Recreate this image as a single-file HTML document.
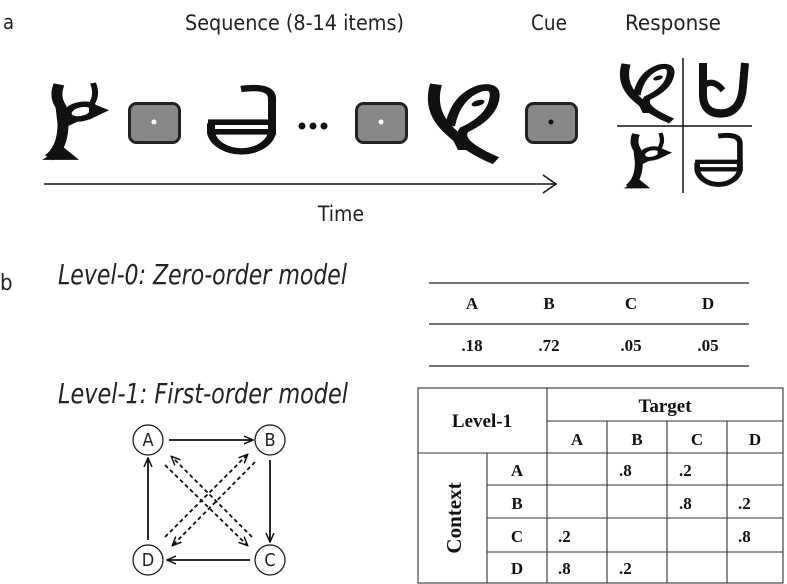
<!DOCTYPE html>
<html><head><meta charset="utf-8"><style>
html,body{margin:0;padding:0;background:#fff;}
svg{display:block;}
.s{font-family:"DejaVu Sans Condensed","Liberation Sans Narrow","Liberation Sans",sans-serif;fill:#222;}
.tb{font-family:"Liberation Serif",serif;fill:#111;font-size:17px;font-weight:bold;}
</style></head><body>
<svg width="787" height="584" viewBox="0 0 787 584" xmlns="http://www.w3.org/2000/svg">
<defs>
<g id="bird">
 <path d="M18 2 Q13 20 20 35 L22 60 Q22 95 8 110" stroke="#111" stroke-width="11" fill="none"/>
 <path d="M1 113 L22 94 L38 113 Z" fill="#111"/>
 <ellipse cx="40" cy="42" rx="14" ry="10" transform="rotate(-25 40 42)" stroke="#111" stroke-width="8" fill="none"/>
 <path d="M48 28 L68 40 L48 54 Z" fill="#111"/>
 <path d="M52 0 Q57 18 50 32" stroke="#111" stroke-width="6" fill="none"/>
 <path d="M20 64 L36 53" stroke="#111" stroke-width="7"/>
</g>
<g id="schwa">
 <path d="M36 5 Q66 0 67 16 L67 60" stroke="#111" stroke-width="8" fill="none"/>
 <path d="M6 48 L6 60 A31 28 0 0 0 67 60 L67 48" stroke="#111" stroke-width="8" fill="none"/>
 <rect x="3" y="43" width="68" height="7" fill="#111"/>
 <rect x="3" y="55" width="68" height="7" fill="#111"/>
</g>
<g id="leaf">
 <path d="M8 2 Q0 42 22 72 Q42 100 68 116" stroke="#111" stroke-width="12" fill="none"/>
 <path d="M22 64 Q28 20 52 8 Q70 2 66 26 Q62 52 36 70 Q30 82 44 96" stroke="#111" stroke-width="10" fill="none"/>
 <path d="M20 70 Q35 90 50 100 L30 100 Z" fill="#111"/>
 <ellipse cx="50" cy="30" rx="7" ry="4" transform="rotate(-30 50 30)" fill="#111"/>
</g>
<g id="ud">
 <path d="M8 0 L8 30 Q8 48 26 48 Q46 48 48 22 L50 0" stroke="#111" stroke-width="8" fill="none"/>
 <path d="M8 22 Q18 14 28 26" stroke="#111" stroke-width="6" fill="none"/>
</g>
<marker id="ah2" markerWidth="10" markerHeight="10" refX="8" refY="5" orient="auto" markerUnits="userSpaceOnUse">
 <path d="M0 1 L9 5 L0 9" fill="none" stroke="#111" stroke-width="1.5"/>
</marker>
</defs>

<!-- panel a -->
<text x="3" y="29" class="s" font-size="20">a</text>
<text x="185" y="30" class="s" font-size="21" textLength="219" lengthAdjust="spacingAndGlyphs">Sequence (8-14 items)</text>
<text x="531" y="30" class="s" font-size="21" textLength="36" lengthAdjust="spacingAndGlyphs">Cue</text>
<text x="625" y="30" class="s" font-size="21" textLength="96" lengthAdjust="spacingAndGlyphs">Response</text>

<g transform="translate(41,83) scale(1,0.68)"><use href="#bird"/></g>
<rect x="129.5" y="103.5" width="50" height="39" rx="7" fill="#888" stroke="#222" stroke-width="3"/>
<circle cx="154" cy="122" r="2.5" fill="#fff"/>
<g transform="translate(205,85) scale(1,0.8)"><use href="#schwa"/></g>
<circle cx="302" cy="126" r="3.5" fill="#111"/><circle cx="313" cy="126" r="3.5" fill="#111"/><circle cx="324" cy="126" r="3.5" fill="#111"/>
<rect x="356.5" y="103.5" width="50" height="39" rx="7" fill="#888" stroke="#222" stroke-width="3"/>
<circle cx="381" cy="122" r="2.5" fill="#fff"/>
<g transform="translate(428,83) scale(1,0.67)"><use href="#leaf"/></g>
<rect x="526.5" y="103.5" width="50" height="39" rx="7" fill="#888" stroke="#222" stroke-width="3"/>
<circle cx="551" cy="122" r="2.5" fill="#111"/>

<line x1="44" y1="184" x2="555" y2="184" stroke="#111" stroke-width="1.5"/>
<path d="M543 175 L556 184 L543 193" stroke="#111" stroke-width="1.5" fill="none"/>
<text x="341" y="221" class="s" font-size="21" text-anchor="middle">Time</text>

<line x1="683" y1="58" x2="683" y2="193" stroke="#111" stroke-width="1.5"/>
<line x1="617" y1="126" x2="752" y2="126" stroke="#111" stroke-width="1.5"/>
<g transform="translate(620,63) scale(0.76,0.5)"><use href="#leaf"/></g>
<g transform="translate(695,63) scale(1,1.05)"><use href="#ud"/></g>
<g transform="translate(623,133) scale(0.72,0.49)"><use href="#bird"/></g>
<g transform="translate(693,133) scale(0.7,0.62)"><use href="#schwa"/></g>

<!-- panel b -->
<text x="0" y="290" class="s" font-size="22">b</text>
<text x="58" y="284" class="s" font-size="28" font-style="italic" textLength="289" lengthAdjust="spacingAndGlyphs">Level-0: Zero-order model</text>
<text x="58" y="403" class="s" font-size="28" font-style="italic" textLength="290" lengthAdjust="spacingAndGlyphs">Level-1: First-order model</text>

<!-- network -->
<g fill="none" stroke="#111" stroke-width="1.2">
<circle cx="148" cy="440" r="15"/><circle cx="270" cy="440" r="15"/>
<circle cx="148" cy="560" r="15"/><circle cx="270" cy="560" r="15"/>
</g>
<g class="s" font-size="18" text-anchor="middle">
<text x="148" y="446">A</text><text x="270" y="446">B</text><text x="270" y="566">C</text><text x="148" y="566">D</text>
</g>
<g stroke="#111" stroke-width="1.8" fill="none">
<line x1="169" y1="440" x2="252" y2="440" marker-end="url(#ah2)"/>
<line x1="270" y1="460" x2="270" y2="541" marker-end="url(#ah2)"/>
<line x1="250" y1="560" x2="168" y2="560" marker-end="url(#ah2)"/>
<line x1="148" y1="540" x2="148" y2="459" marker-end="url(#ah2)"/>
</g>
<g stroke="#111" stroke-width="1.8" fill="none" stroke-dasharray="4,3">
<line x1="252" y1="537" x2="172" y2="457" marker-end="url(#ah2)"/>
<line x1="165" y1="465" x2="247" y2="545" marker-end="url(#ah2)"/>
<line x1="165" y1="537" x2="247" y2="455" marker-end="url(#ah2)"/>
<line x1="255" y1="462" x2="173" y2="545" marker-end="url(#ah2)"/>
</g>

<!-- level-0 table -->
<g stroke="#222" stroke-width="1.3">
<line x1="429" y1="283" x2="749" y2="283"/>
<line x1="429" y1="324" x2="749" y2="324"/>
<line x1="429" y1="366" x2="749" y2="366"/>
</g>
<g class="tb" text-anchor="middle">
<text x="472" y="309">A</text><text x="549" y="309">B</text><text x="631" y="309">C</text><text x="708" y="309">D</text>
<text x="472" y="351">.18</text><text x="549" y="351">.72</text><text x="631" y="351">.05</text><text x="708" y="351">.05</text>
</g>

<!-- level-1 table -->
<g stroke="#333" stroke-width="1.1" fill="none">
<rect x="418" y="388" width="365" height="195"/>
<line x1="547" y1="388" x2="547" y2="583"/>
<line x1="547" y1="421" x2="783" y2="421"/>
<line x1="607" y1="421" x2="607" y2="583"/>
<line x1="667" y1="421" x2="667" y2="583"/>
<line x1="727" y1="421" x2="727" y2="583"/>
<line x1="418" y1="453" x2="783" y2="453"/>
<line x1="487" y1="453" x2="487" y2="583"/>
<line x1="487" y1="485" x2="783" y2="485"/>
<line x1="487" y1="518" x2="783" y2="518"/>
<line x1="487" y1="552" x2="783" y2="552"/>
</g>
<g class="tb" text-anchor="middle">
<text x="482" y="427" font-size="19">Level-1</text>
<text x="665" y="412" font-size="19">Target</text>
<text x="577" y="445">A</text><text x="637" y="445">B</text><text x="697" y="445">C</text><text x="755" y="445">D</text>
<text x="517" y="476">A</text><text x="517" y="509">B</text><text x="517" y="542">C</text><text x="517" y="574">D</text>
<text transform="translate(461,518) rotate(-90)" font-size="21">Context</text>
</g>
<g class="tb">
<text x="619" y="476">.8</text><text x="679" y="476">.2</text>
<text x="679" y="509">.8</text><text x="738" y="509">.2</text>
<text x="558" y="542">.2</text><text x="738" y="542">.8</text>
<text x="558" y="574">.8</text><text x="619" y="574">.2</text>
</g>
</svg>
</body></html>
